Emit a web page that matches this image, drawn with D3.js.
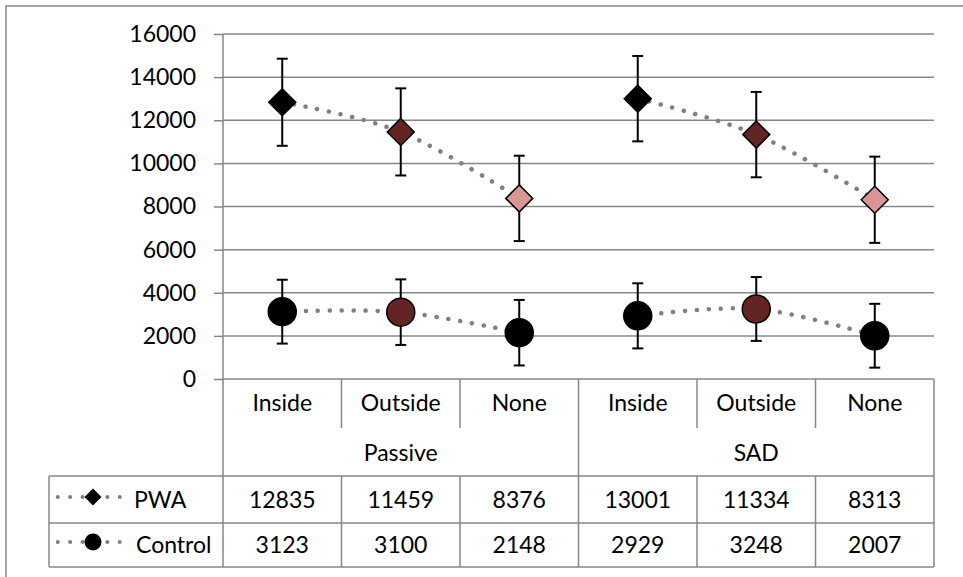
<!DOCTYPE html>
<html>
<head>
<meta charset="utf-8">
<script src="https://cdn.jsdelivr.net/npm/d3@7"></script>
<style>
  body { margin: 0; background: #fff; }
  svg text { font-family: Lato, "Open Sans", sans-serif; fill: #000; }
</style>
</head>
<body>
<div id="chart"></div>
<script>
// chart values
const groups = ["Passive", "SAD"];
const categories = ["Inside", "Outside", "None"];
const seriesNames = ["PWA", "Control"];
const pwaValues = [12835, 11459, 8376, 13001, 11334, 8313];
const controlValues = [3123, 3100, 2148, 2929, 3248, 2007];
const pwaErrors = [2020, 2020, 1980, 1980, 1980, 2000];
const controlErrors = [1480, 1520, 1520, 1510, 1480, 1480];
const pwaColors = ["#000000", "#632523", "#d99694", "#000000", "#632523", "#d99694"];
const controlColors = ["#000000", "#632523", "#000000", "#000000", "#632523", "#000000"];
const yTicks = [0, 2000, 4000, 6000, 8000, 10000, 12000, 14000, 16000];

const W = 963, H = 577;
const gridColor = "#878787";

const svg = d3.select("#chart").append("svg")
    .attr("width", W)
    .attr("height", H);

// outer frame (cut off at right and bottom like the reference)
svg.append("rect")
    .attr("x", 6).attr("y", 6)
    .attr("width", 1000).attr("height", 600)
    .attr("fill", "none")
    .attr("stroke", gridColor)
    .attr("stroke-width", 1.5);

const plotLeft = 223, plotRight = 934, plotTop = 34, plotBottom = 379;
const rowCat = 428, rowGroup = 476, rowPwa = 523, rowCtrl = 567, legendLeft = 49;

const keys = [];
groups.forEach(g => categories.forEach(c => keys.push(g + "|" + c)));

const x = d3.scaleBand().domain(keys).range([plotLeft, plotRight]);
const y = d3.scaleLinear().domain([0, 16000]).range([plotBottom, plotTop]);
const cx = i => x(keys[i]) + x.bandwidth() / 2;

// gridlines
svg.append("g")
    .selectAll("line")
    .data(yTicks)
    .join("line")
    .attr("x1", plotLeft)
    .attr("x2", plotRight)
    .attr("y1", d => y(d))
    .attr("y2", d => y(d))
    .attr("stroke", gridColor)
    .attr("stroke-width", 1.5);

// y axis
const yAxis = svg.append("g")
    .attr("transform", `translate(${plotLeft},0)`)
    .call(d3.axisLeft(y).tickValues(yTicks).tickSize(9).tickPadding(18).tickFormat(d3.format("d")));
yAxis.select(".domain").remove();
yAxis.selectAll("line").attr("stroke", gridColor).attr("stroke-width", 1.5);
yAxis.selectAll("text").style("font-size", "23px").attr("fill", "#000");

// table lines
const tbl = svg.append("g").attr("stroke", gridColor).attr("stroke-width", 1.5);
tbl.append("line").attr("x1", plotLeft).attr("x2", plotLeft).attr("y1", plotTop).attr("y2", rowCtrl);
tbl.append("line").attr("x1", plotRight).attr("x2", plotRight).attr("y1", plotBottom).attr("y2", rowCtrl);
tbl.append("line").attr("x1", legendLeft).attr("x2", legendLeft).attr("y1", rowGroup).attr("y2", rowCtrl);
[rowGroup, rowPwa, rowCtrl].forEach(yy => {
    tbl.append("line").attr("x1", legendLeft).attr("x2", plotRight).attr("y1", yy).attr("y2", yy);
});
keys.forEach((k, i) => {
    if (i === 0) return;
    const xx = x(k);
    const full = i % categories.length === 0;
    tbl.append("line").attr("x1", xx).attr("x2", xx)
        .attr("y1", plotBottom).attr("y2", full ? rowCtrl : rowCat);
    if (!full) {
        tbl.append("line").attr("x1", xx).attr("x2", xx).attr("y1", rowGroup).attr("y2", rowCtrl);
    }
});

// category labels
svg.append("g").selectAll("text")
    .data(keys)
    .join("text")
    .attr("x", (d, i) => cx(i))
    .attr("y", 411)
    .attr("text-anchor", "middle")
    .style("font-size", "23px")
    .text(d => d.split("|")[1]);

// group labels
svg.append("g").selectAll("text")
    .data(groups)
    .join("text")
    .attr("x", g => (x(g + "|" + categories[0]) + x(g + "|" + categories[categories.length - 1]) + x.bandwidth()) / 2)
    .attr("y", 461)
    .attr("text-anchor", "middle")
    .style("font-size", "23px")
    .text(d => d);

// data table values
[pwaValues, controlValues].forEach((vals, r) => {
    svg.append("g").selectAll("text")
        .data(vals)
        .join("text")
        .attr("x", (d, i) => cx(i))
        .attr("y", r === 0 ? 508 : 553)
        .attr("text-anchor", "middle")
        .style("font-size", "23px")
        .text(d => d);
});

const dotted = sel => sel
    .attr("fill", "none")
    .attr("stroke", "#808080")
    .attr("stroke-width", 4.5)
    .attr("stroke-linecap", "round")
    .attr("stroke-dasharray", "0.1 11.8");

const line = d3.line()
    .x((d, i) => cx(i))
    .y(d => y(d))
    .curve(d3.curveCatmullRom.alpha(0));

const diamond = (s) => `M0,${-s}L${s},0L0,${s}L${-s},0Z`;

const seriesList = [
    { name: seriesNames[0], values: pwaValues, errors: pwaErrors, colors: pwaColors, shape: "diamond" },
    { name: seriesNames[1], values: controlValues, errors: controlErrors, colors: controlColors, shape: "circle" }
];

seriesList.forEach(s => {
    for (let g = 0; g < groups.length; g++) {
        const idx = d3.range(g * categories.length, (g + 1) * categories.length);
        svg.append("path")
            .datum(idx.map(i => s.values[i]))
            .attr("transform", `translate(${g * categories.length * x.bandwidth()},0)`)
            .attr("d", line)
            .call(dotted);
    }

    // error bars
    const eb = svg.append("g").attr("stroke", "#000").attr("stroke-width", 2);
    s.values.forEach((v, i) => {
        const x0 = cx(i), yt = y(v + s.errors[i]), yb = y(v - s.errors[i]);
        eb.append("line").attr("x1", x0).attr("x2", x0).attr("y1", yt).attr("y2", yb);
        eb.append("line").attr("x1", x0 - 5.5).attr("x2", x0 + 5.5).attr("y1", yt).attr("y2", yt);
        eb.append("line").attr("x1", x0 - 5.5).attr("x2", x0 + 5.5).attr("y1", yb).attr("y2", yb);
    });

    // markers
    const mk = svg.append("g");
    s.values.forEach((v, i) => {
        if (s.shape === "diamond") {
            mk.append("path")
                .attr("d", diamond(13.5))
                .attr("transform", `translate(${cx(i)},${y(v)})`)
                .attr("fill", s.colors[i])
                .attr("stroke", "#000")
                .attr("stroke-width", 1.5);
        } else {
            mk.append("circle")
                .attr("cx", cx(i)).attr("cy", y(v)).attr("r", 14)
                .attr("fill", s.colors[i])
                .attr("stroke", "#000")
                .attr("stroke-width", 1.5);
        }
    });
});

// legend keys in the table
const legendRows = [{ yy: 497, shape: "diamond" }, { yy: 542, shape: "circle" }];
legendRows.forEach((r, k) => {
    svg.append("line")
        .attr("x1", 57.7).attr("x2", 121).attr("y1", r.yy).attr("y2", r.yy)
        .call(dotted)
        .attr("stroke-width", 4)
        .attr("stroke-dasharray", "0.1 12.3");
    if (r.shape === "diamond") {
        svg.append("path").attr("d", diamond(8.5))
            .attr("transform", `translate(93,${r.yy})`).attr("fill", "#000");
    } else {
        svg.append("circle").attr("cx", 93).attr("cy", r.yy).attr("r", 8.5).attr("fill", "#000");
    }
    svg.append("text")
        .attr("x", k === 0 ? 134 : 136)
        .attr("y", k === 0 ? 508 : 553)
        .style("font-size", "23px")
        .text(seriesNames[k]);
});
</script>
</body>
</html>
